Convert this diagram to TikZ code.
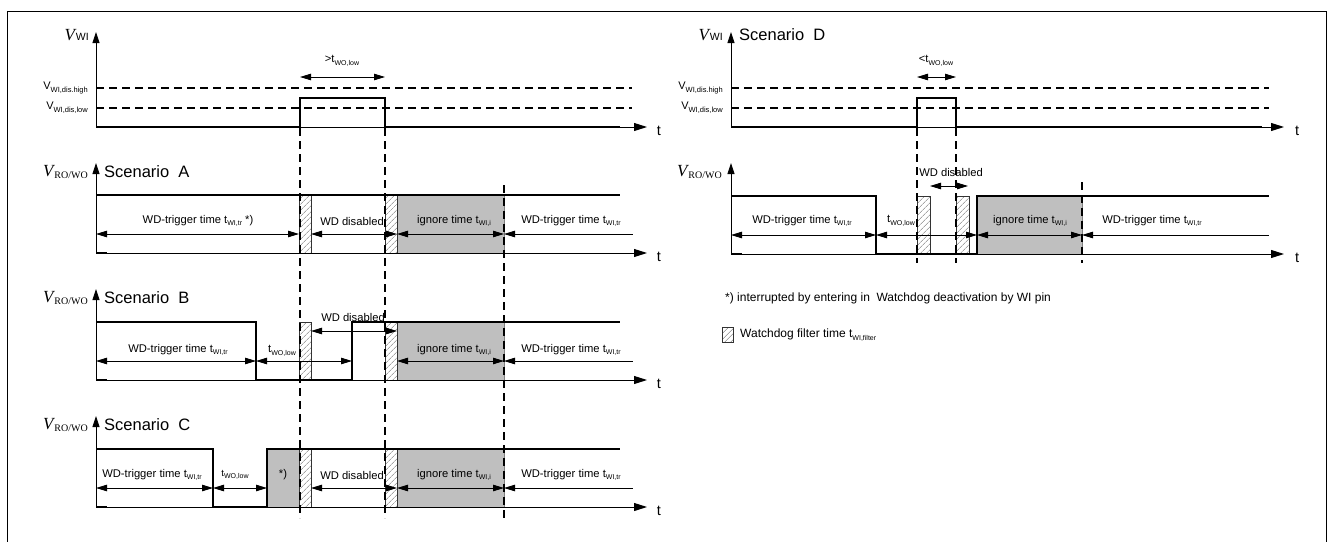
\documentclass[tikz,border=0pt]{standalone}
\usepackage{fontspec}
\setmainfont{Liberation Sans}
\newfontfamily\tmsf{Liberation Serif}
\usetikzlibrary{arrows.meta,patterns.meta}
\newcommand\sbs[1]{\raisebox{-0.45ex}{\fontsize{7}{7}\selectfont #1}}
\newcommand\tsub[1]{t\sbs{#1}}
\newcommand\vsub[1]{V\raisebox{-0.45ex}{\fontsize{7.5}{8}\selectfont #1}}
\newcommand\vwi{{\tmsf\itshape\fontsize{17}{17}\selectfont V}\kern1pt{\fontsize{10.5}{10}\selectfont WI}}
\newcommand\vro{{\tmsf\itshape\fontsize{17}{17}\selectfont V}\kern1pt\raisebox{-0.3ex}{\tmsf\fontsize{10}{10}\selectfont RO/WO}}
\tikzset{
 ln/.style={line width=0.9pt},
 ax/.style={line width=0.9pt,-{Triangle[length=11pt,width=7pt]}},
 tax/.style={line width=0.9pt,-{Triangle[length=13pt,width=8pt]}},
 dd/.style={line width=0.9pt,{Triangle[length=11pt,width=6.5pt]}-{Triangle[length=11pt,width=6.5pt]}},
 dl/.style={line width=0.9pt,{Triangle[length=11pt,width=6.5pt]}-},
 sig/.style={line width=2.8pt,line join=miter},
 dsh/.style={line width=1.7pt,dash pattern=on 8pt off 5pt},
 hbox/.style={draw=black!80,line width=0.6pt,pattern={Lines[angle=45,distance=4pt,line width=0.5pt]},pattern color=black!55},
 gbox/.style={fill=black!25,draw=black!50,line width=0.5pt},
 lb/.style={inner sep=0pt,font=\fontsize{11.2}{13}\selectfont},
 sc/.style={inner sep=0pt,anchor=west,font=\fontsize{16.5}{18}\selectfont},
 tl/.style={inner sep=0pt,font=\fontsize{14.5}{15}\selectfont},
 vl/.style={inner sep=0pt,anchor=east},
 vd/.style={inner sep=0pt,anchor=east,font=\fontsize{11}{12}\selectfont},
}
\begin{document}
\begin{tikzpicture}[x=1pt,y=-1pt]
\useasboundingbox (0,0) rectangle (1332,541);
\draw[line width=1pt] (7,548) -- (7,11) -- (1326,11) -- (1326,548);

% ================= top left: V_WI =================
\draw[dsh] (96,88) -- (632,88);
\draw[dsh] (96,108) -- (632,108);
\draw[ax] (96,127) -- (96,32);
\draw[tax] (96,127) -- (647,127);
\draw[sig] (96,127) -- (300,127) -- (300,98) -- (385,98) -- (385,127) -- (620,127);
\node[vl] (vwiL) at (89,35) {\vwi};
\node[vd] (vhL) at (88,88) {\vsub{WI,dis.high}};
\node[vd] (vlL) at (88,108) {\vsub{WI,dis,low}};
\node[tl] (t0) at (659,131) {t};
\coordinate (pA) at (300,77); \coordinate (pB) at (385,77);
\draw[dd] (pA) -- (pB);
\node[lb] (gtw) at (342,61) {>\tsub{WO,low}};

% ================= Scenario A =================
\begin{scope}[shift={(0,195)}]
\fill[gbox] (397,0) rectangle (504,58);
\fill[hbox] (299,0) rectangle (311,58);
\fill[hbox] (385,0) rectangle (397,58);
\draw[tax] (96,58) -- (647,58);
\draw[ax] (96,58) -- (96,-32);
\draw[sig] (96,58) -- (107,58);
\draw[sig] (96,0) -- (620,0);
\node[vl] (vA) at (88,-23) {\vro};
\node[sc] (sA) at (104,-23) {Scenario\ \ A};
\node[tl] (tA) at (659,62) {t};
\draw[dd] (96,39) -- (299,39);
\draw[dd] (311,39) -- (397,39);
\draw[dd] (397,39) -- (504,39);
\draw[dl] (504,39) -- (633,39);
\node[lb] (a1) at (198,26) {WD-trigger time \tsub{WI,tr} *)};
\node[lb] (a2) at (352,26) {WD disabled};
\node[lb] (a3) at (454,26) {ignore time \tsub{WI,i}};
\node[lb] (a4) at (571,26) {WD-trigger time \tsub{WI,tr}};
\end{scope}

% ================= Scenario B =================
\begin{scope}[shift={(0,322)}]
\fill[gbox] (397,0) rectangle (504,58);
\fill[hbox] (299,0) rectangle (311,58);
\fill[hbox] (385,0) rectangle (397,58);
\draw[tax] (96,58) -- (647,58);
\draw[ax] (96,58) -- (96,-33);
\draw[sig] (96,58) -- (107,58);
\draw[sig] (96,0) -- (256,0) -- (256,58) -- (352,58) -- (352,0) -- (620,0);
\node[vl] (vB) at (88,-24) {\vro};
\node[sc] (sB) at (104,-24) {Scenario\ \ B};
\node[tl] (tB) at (659,62) {t};
\draw[dd] (96,39) -- (256,39);
\draw[dd] (256,39) -- (352,39);
\draw[dd] (311,9) -- (397,9);
\draw[dd] (397,39) -- (504,39);
\draw[dl] (504,39) -- (633,39);
\node[lb] (b1) at (178,28) {WD-trigger time \tsub{WI,tr}};
\node[lb] (b2) at (282,29) {\tsub{WO,low}};
\node[lb] (b3) at (353,-5) {WD disabled};
\node[lb] (b4) at (454,28) {ignore time \tsub{WI,i}};
\node[lb] (b5) at (571,28) {WD-trigger time \tsub{WI,tr}};
\end{scope}

% ================= Scenario C =================
\begin{scope}[shift={(0,449)}]
\fill[gbox] (267,0) rectangle (299,58);
\fill[gbox] (397,0) rectangle (504,58);
\fill[hbox] (299,0) rectangle (311,58);
\fill[hbox] (385,0) rectangle (397,58);
\draw[tax] (96,58) -- (647,58);
\draw[ax] (96,58) -- (96,-33);
\draw[sig] (96,58) -- (107,58);
\draw[sig] (96,0) -- (213,0) -- (213,58) -- (267,58) -- (267,0) -- (620,0);
\node[vl] (vC) at (88,-24) {\vro};
\node[sc] (sC) at (104,-24) {Scenario\ \ C};
\node[tl] (tC) at (659,62) {t};
\draw[dd] (96,39) -- (213,39);
\draw[dd] (213,39) -- (267,39);
\draw[dd] (311,39) -- (397,39);
\draw[dd] (397,39) -- (504,39);
\draw[dl] (504,39) -- (633,39);
\node[lb] (c1) at (152,26) {WD-trigger time \tsub{WI,tr}};
\node[lb,font=\fontsize{9.5}{10}\selectfont] (c2) at (235,26) {\tsub{WO,low}};
\node[lb] (c3) at (283,26) {*)};
\node[lb] (c4) at (352,26) {WD disabled};
\node[lb] (c5) at (454,26) {ignore time \tsub{WI,i}};
\node[lb] (c6) at (571,26) {WD-trigger time \tsub{WI,tr}};
\end{scope}

% vertical dashed markers (left)
\draw[dsh] (300,128) -- (300,518);
\draw[dsh] (385,128) -- (385,518);
\draw[dsh] (504,185) -- (504,518);

% ================= Scenario D: top =================
\draw[dsh] (731,88) -- (1269,88);
\draw[dsh] (731,108) -- (1269,108);
\draw[ax] (731,127) -- (731,32);
\draw[tax] (731,127) -- (1284,127);
\draw[sig] (731,127) -- (917,127) -- (917,98) -- (956,98) -- (956,127) -- (1262,127);
\node[vl] (vwiR) at (723,35) {\vwi};
\node[sc] (sD) at (739,35) {Scenario\ \ D};
\node[vd] (vhR) at (723,88) {\vsub{WI,dis.high}};
\node[vd] (vlR) at (723,108) {\vsub{WI,dis,low}};
\node[tl] (tD0) at (1297,131) {t};
\draw[dd] (917,77) -- (956,77);
\node[lb] (ltw) at (936,61) {<\tsub{WO,low}};

% ================= Scenario D: bottom =================
\begin{scope}[shift={(0,196)}]
\fill[gbox] (977,0) rectangle (1082,58);
\fill[hbox] (917,0) rectangle (930,58);
\fill[hbox] (956,0) rectangle (969,58);
\draw[tax] (731,58) -- (1284,58);
\draw[ax] (731,58) -- (731,-33);
\draw[sig] (731,58) -- (742,58);
\draw[sig] (731,0) -- (876,0) -- (876,58) -- (977,58) -- (977,0) -- (1269,0);
\node[vl] (vD) at (722,-24) {\vro};
\node[tl] (tD) at (1297,62) {t};
\draw[dd] (731,39) -- (876,39);
\draw[dd] (876,39) -- (977,39);
\draw[dd] (930,-10) -- (968,-10);
\draw[dd] (977,39) -- (1082,39);
\draw[dl] (1082,39) -- (1269,39);
\node[lb] (d1) at (802,25) {WD-trigger time \tsub{WI,tr}};
\node[lb] (d2) at (901,25) {\tsub{WO,low}};
\node[lb] (d3) at (951,-24) {WD disabled};
\node[lb] (d4) at (1030,25) {ignore time \tsub{WI,i}};
\node[lb] (d5) at (1152,25) {WD-trigger time \tsub{WI,tr}};
\end{scope}
\draw[dsh] (917,128) -- (917,263);
\draw[dsh] (956,128) -- (956,263);
\draw[dsh] (1082,182) -- (1082,263);

% ================= legend =================
\node[inner sep=0pt,anchor=west,font=\fontsize{12}{14}\selectfont] (leg1) at (725,298) {*) interrupted by entering in\ \ Watchdog deactivation by WI pin};
\fill[hbox] (722,327) rectangle (733,342);
\node[inner sep=0pt,anchor=west,font=\fontsize{12}{14}\selectfont] (leg2) at (740,335) {Watchdog filter time \tsub{WI,filter}};
\end{tikzpicture}
\end{document}
